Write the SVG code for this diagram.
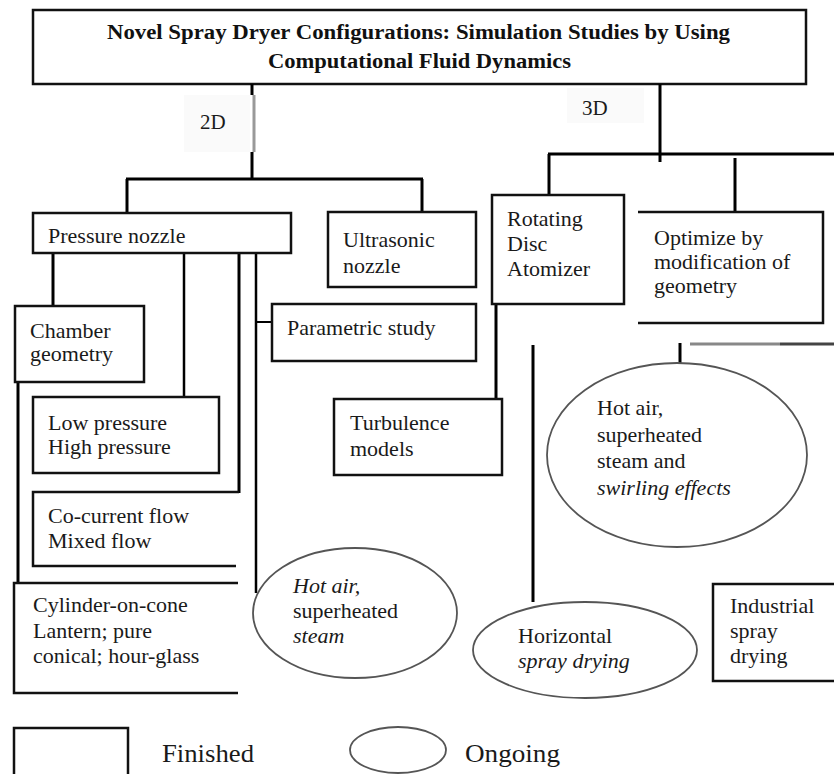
<svg xmlns="http://www.w3.org/2000/svg" width="834" height="774" viewBox="0 0 834 774">
<style>
.bx{fill:#fff;stroke:#111;stroke-width:2.5}
.op{fill:none;stroke:#111;stroke-width:2.5}
.el{fill:#fff;stroke:#555;stroke-width:1.8}
.c{fill:none;stroke:#000;stroke-width:3}
.t{font-family:"Liberation Serif","Times New Roman",serif;font-size:22px;fill:#1a1a1a}
.ti{font-family:"Liberation Serif","Times New Roman",serif;font-size:20px;font-weight:bold;fill:#111}
.i{font-style:italic}
.bg{fill:#fafafa}
</style>
<rect width="834" height="774" fill="#fff"/>

<g id="title">
<rect class="bx" x="33" y="10" width="773" height="74"/>
<text class="ti" x="107" y="39" textLength="623" lengthAdjust="spacingAndGlyphs">Novel Spray Dryer Configurations: Simulation Studies by Using</text>
<text class="ti" x="268" y="68" textLength="303" lengthAdjust="spacingAndGlyphs">Computational Fluid Dynamics</text>
</g>

<g id="label-2d">
<rect class="bg" x="184" y="95" width="66" height="57"/>
<text class="t" x="200" y="129" style="font-size:21px">2D</text>
</g>
<g id="label-3d">
<rect class="bg" x="567" y="88" width="77" height="35"/>
<text class="t" x="582" y="115" style="font-size:21px">3D</text>
</g>

<g id="connectors">
<line class="c" x1="252" y1="84" x2="252" y2="95"/>
<line x1="254" y1="95" x2="254" y2="152" stroke="#999" stroke-width="3"/>
<line class="c" x1="252" y1="152" x2="252" y2="179"/>
<line class="c" x1="126" y1="179" x2="423" y2="179"/>
<line class="c" x1="127" y1="179" x2="127" y2="213"/>
<line class="c" x1="422" y1="179" x2="422" y2="212"/>
<line class="c" x1="660" y1="84" x2="660" y2="162"/>
<line class="c" x1="548" y1="154" x2="834" y2="154"/>
<line class="c" x1="549" y1="154" x2="549" y2="195"/>
<line class="c" x1="735" y1="158" x2="735" y2="212"/>
<line class="c" x1="53" y1="253" x2="53" y2="306"/>
<line x1="184" y1="253" x2="184" y2="397" stroke="#000" stroke-width="2.5"/>
<line class="c" x1="239" y1="253" x2="239" y2="493"/>
<line x1="256" y1="253" x2="256" y2="593" stroke="#000" stroke-width="2.5"/>
<line x1="256" y1="322" x2="272" y2="322" stroke="#000" stroke-width="2"/>
<line class="c" x1="18" y1="382" x2="18" y2="583"/>
<line class="c" x1="496" y1="304" x2="496" y2="399"/>
<line class="c" x1="533" y1="345" x2="533" y2="602"/>
<line class="c" x1="680" y1="343" x2="680" y2="363"/>
<line x1="690" y1="344" x2="780" y2="344" stroke="#888" stroke-width="3"/>
<line x1="780" y1="344" x2="834" y2="344" stroke="#444" stroke-width="3"/>
</g>

<g id="pressure-nozzle">
<rect class="bx" x="33" y="213" width="258" height="40"/>
<text class="t" x="48" y="243">Pressure nozzle</text>
</g>

<g id="ultrasonic-nozzle">
<rect class="bx" x="328" y="212" width="148" height="75"/>
<text class="t" x="343" y="247">Ultrasonic</text>
<text class="t" x="343" y="273">nozzle</text>
</g>

<g id="rotating-disc">
<rect class="bx" x="492" y="195" width="132" height="109"/>
<text class="t" x="507" y="226">Rotating</text>
<text class="t" x="507" y="251">Disc</text>
<text class="t" x="507" y="276">Atomizer</text>
</g>

<g id="optimize">
<path class="op" d="M638 212 H823 V323 H638"/>
<text class="t" x="654" y="245">Optimize by</text>
<text class="t" x="654" y="269">modification of</text>
<text class="t" x="654" y="293">geometry</text>
</g>

<g id="chamber-geometry">
<rect class="bx" x="15" y="306" width="129" height="76"/>
<text class="t" x="30" y="338">Chamber</text>
<text class="t" x="30" y="361">geometry</text>
</g>

<g id="parametric-study">
<rect class="bx" x="272" y="304" width="204" height="57"/>
<text class="t" x="287" y="335">Parametric study</text>
</g>

<g id="pressure-levels">
<rect class="bx" x="33" y="397" width="186" height="76"/>
<text class="t" x="48" y="430">Low pressure</text>
<text class="t" x="48" y="454">High pressure</text>
</g>

<g id="turbulence-models">
<rect class="bx" x="334" y="399" width="168" height="76"/>
<text class="t" x="350" y="430">Turbulence</text>
<text class="t" x="350" y="456">models</text>
</g>

<g id="flow-types">
<path class="op" d="M239 492 H33 V566 H236"/>
<text class="t" x="48" y="523">Co-current flow</text>
<text class="t" x="48" y="548">Mixed flow</text>
</g>

<g id="chamber-shapes">
<path class="op" d="M238 583 H14 V693 H238"/>
<text class="t" x="33" y="612">Cylinder-on-cone</text>
<text class="t" x="33" y="638">Lantern; pure</text>
<text class="t" x="33" y="663">conical; hour-glass</text>
</g>

<g id="hot-air-2d">
<ellipse class="el" cx="355" cy="613" rx="102" ry="65"/>
<text class="t i" x="293" y="593">Hot air,</text>
<text class="t" x="293" y="618">superheated</text>
<text class="t i" x="293" y="643">steam</text>
</g>

<g id="hot-air-3d">
<ellipse class="el" cx="677" cy="455" rx="130" ry="92"/>
<text class="t" x="597" y="415">Hot air,</text>
<text class="t" x="597" y="442">superheated</text>
<text class="t" x="597" y="468">steam and</text>
<text class="t i" x="597" y="495">swirling effects</text>
</g>

<g id="horizontal-spray">
<ellipse class="el" cx="585" cy="650" rx="112" ry="48"/>
<text class="t" x="518" y="643">Horizontal</text>
<text class="t i" x="518" y="668">spray drying</text>
</g>

<g id="industrial-spray">
<path class="op" d="M834 584 H713 V681 H834"/>
<text class="t" x="730" y="613">Industrial</text>
<text class="t" x="730" y="638">spray</text>
<text class="t" x="730" y="663">drying</text>
</g>

<g id="legend">
<rect class="bx" x="14" y="728" width="114" height="50"/>
<text class="t" x="162" y="762" style="font-size:25px" textLength="92" lengthAdjust="spacingAndGlyphs">Finished</text>
<ellipse class="el" cx="398" cy="750" rx="48" ry="23"/>
<text class="t" x="465" y="762" style="font-size:25px" textLength="95" lengthAdjust="spacingAndGlyphs">Ongoing</text>
</g>
</svg>
